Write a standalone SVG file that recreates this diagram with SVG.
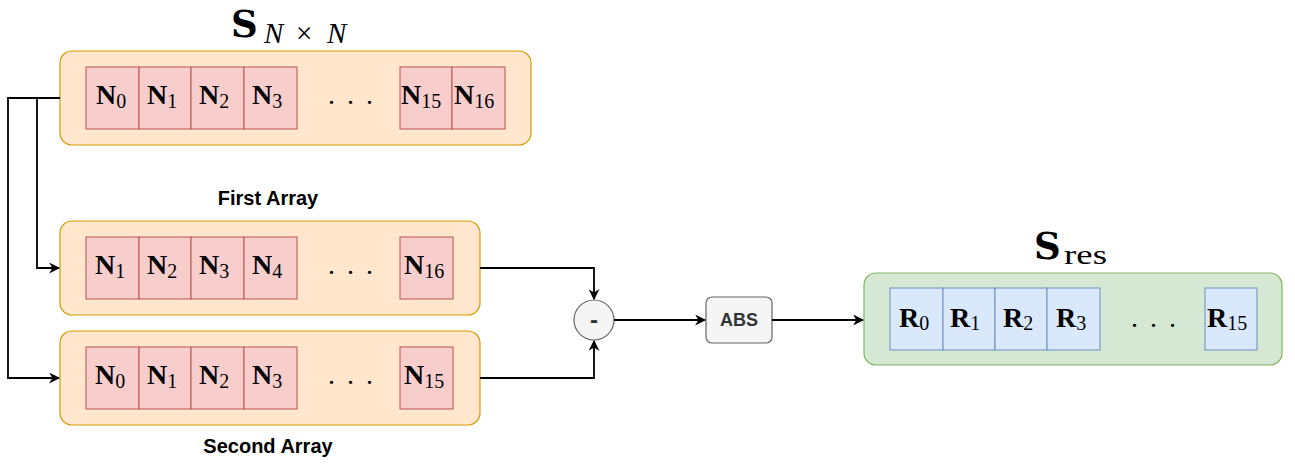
<svg xmlns="http://www.w3.org/2000/svg" width="1295" height="466" viewBox="0 0 1295 466">
  <defs>
    <marker id="arrow" viewBox="0 0 10 10" refX="9" refY="5" markerWidth="11" markerHeight="11" markerUnits="userSpaceOnUse" orient="auto">
      <path d="M0,0 L10,5 L0,10 L3,5 Z" fill="#000"/>
    </marker>
    <style>
      .box { fill: #ffe6cc; stroke: #d79b00; stroke-width: 1.2; }
      .boxg { fill: #d5e8d4; stroke: #82b366; stroke-width: 1.2; }
      .cell { fill: #f8cecc; stroke: #b85450; stroke-width: 1; }
      .cellb { fill: #dae8fc; stroke: #6c8ebf; stroke-width: 1; }
      .m { font-family: "Liberation Serif", "DejaVu Serif", serif; fill: #000; }
      .bigS { font-family: "DejaVu Serif", "Liberation Serif", serif; font-size: 37px; font-weight: bold; fill: #000; }
      .big { font-size: 28px; font-weight: bold; }
      .sub { font-size: 20px; font-weight: normal; }
      .dots { font-family: "Liberation Serif", serif; font-size: 28px; fill: #000; }
      .lbl { font-family: "Liberation Sans", Arial, sans-serif; font-size: 20px; font-weight: bold; fill: #000; }
      .wire { fill: none; stroke: #000; stroke-width: 1.8; }
    </style>
  </defs>
  <rect width="1295" height="466" fill="#fff"/>

  <!-- matrix S (N x N) -->
  <g id="matrix">
    <text class="bigS" x="231" y="37">S</text>
    <text class="m" y="43" font-size="29"><tspan x="264" font-style="italic">N</tspan><tspan x="296">×</tspan><tspan x="327" font-style="italic">N</tspan></text>
    <rect class="box" x="60" y="51" width="471" height="94" rx="12"/>
    <rect class="cell" x="86" y="67" width="53" height="62"/>
    <rect class="cell" x="139" y="67" width="52" height="62"/>
    <rect class="cell" x="191" y="67" width="53" height="62"/>
    <rect class="cell" x="244" y="67" width="53" height="62"/>
    <rect class="cell" x="400" y="67" width="52" height="62"/>
    <rect class="cell" x="452" y="67" width="53" height="62"/>
    <text class="m big" x="96" y="104">N<tspan class="sub" dy="4">0</tspan></text>
    <text class="m big" x="147" y="104">N<tspan class="sub" dy="4">1</tspan></text>
    <text class="m big" x="199" y="104">N<tspan class="sub" dy="4">2</tspan></text>
    <text class="m big" x="252" y="104">N<tspan class="sub" dy="4">3</tspan></text>
    <text class="dots" x="328 347 366" y="104">...</text>
    <text class="m big" x="401" y="104">N<tspan class="sub" dy="4">15</tspan></text>
    <text class="m big" x="454" y="104">N<tspan class="sub" dy="4">16</tspan></text>
  </g>

  <!-- first (shifted) array -->
  <g id="first-array">
    <text class="lbl" x="268" y="205" text-anchor="middle">First Array</text>
    <rect class="box" x="60" y="221" width="420" height="94" rx="12"/>
    <rect class="cell" x="86" y="237" width="53" height="62"/>
    <rect class="cell" x="139" y="237" width="52" height="62"/>
    <rect class="cell" x="191" y="237" width="53" height="62"/>
    <rect class="cell" x="244" y="237" width="53" height="62"/>
    <rect class="cell" x="400" y="237" width="53" height="62"/>
    <text class="m big" x="95" y="274">N<tspan class="sub" dy="4">1</tspan></text>
    <text class="m big" x="147" y="274">N<tspan class="sub" dy="4">2</tspan></text>
    <text class="m big" x="199" y="274">N<tspan class="sub" dy="4">3</tspan></text>
    <text class="m big" x="252" y="274">N<tspan class="sub" dy="4">4</tspan></text>
    <text class="dots" x="328 347 366" y="274">...</text>
    <text class="m big" x="404" y="274">N<tspan class="sub" dy="4">16</tspan></text>
  </g>

  <!-- second array -->
  <g id="second-array">
    <rect class="box" x="60" y="331" width="420" height="94" rx="12"/>
    <rect class="cell" x="86" y="347" width="53" height="62"/>
    <rect class="cell" x="139" y="347" width="52" height="62"/>
    <rect class="cell" x="191" y="347" width="53" height="62"/>
    <rect class="cell" x="244" y="347" width="53" height="62"/>
    <rect class="cell" x="400" y="347" width="53" height="62"/>
    <text class="m big" x="95" y="384">N<tspan class="sub" dy="4">0</tspan></text>
    <text class="m big" x="147" y="384">N<tspan class="sub" dy="4">1</tspan></text>
    <text class="m big" x="199" y="384">N<tspan class="sub" dy="4">2</tspan></text>
    <text class="m big" x="252" y="384">N<tspan class="sub" dy="4">3</tspan></text>
    <text class="dots" x="328 347 366" y="384">...</text>
    <text class="m big" x="404" y="384">N<tspan class="sub" dy="4">15</tspan></text>
    <text class="lbl" x="268" y="453" text-anchor="middle">Second Array</text>
  </g>

  <!-- subtraction -->
  <g id="minus">
    <circle cx="594" cy="320" r="20" fill="#f5f5f5" stroke="#666" stroke-width="1.2"/>
    <text x="594" y="328" text-anchor="middle" font-family="'Liberation Sans', Arial, sans-serif" font-size="24" font-weight="bold" fill="#333">-</text>
  </g>

  <!-- absolute value -->
  <g id="abs">
    <rect x="706" y="297" width="66" height="46" rx="6" fill="#f5f5f5" stroke="#666" stroke-width="1.2"/>
    <text x="739" y="326" text-anchor="middle" font-family="'Liberation Sans', Arial, sans-serif" font-size="18" font-weight="bold" fill="#333">ABS</text>
  </g>

  <!-- result S_res -->
  <g id="result">
    <text class="bigS" x="1034" y="259">S</text>
    <text class="m" x="1064" y="264" font-size="28" textLength="43" lengthAdjust="spacingAndGlyphs">res</text>
    <rect class="boxg" x="864" y="273" width="418" height="92" rx="12"/>
    <rect class="cellb" x="890" y="288" width="53" height="62"/>
    <rect class="cellb" x="943" y="288" width="52" height="62"/>
    <rect class="cellb" x="995" y="288" width="52" height="62"/>
    <rect class="cellb" x="1047" y="288" width="53" height="62"/>
    <rect class="cellb" x="1205" y="288" width="52" height="62"/>
    <text class="m big" x="899" y="327">R<tspan class="sub" dy="3">0</tspan></text>
    <text class="m big" x="950" y="327">R<tspan class="sub" dy="3">1</tspan></text>
    <text class="m big" x="1003" y="327">R<tspan class="sub" dy="3">2</tspan></text>
    <text class="m big" x="1056" y="327">R<tspan class="sub" dy="3">3</tspan></text>
    <text class="dots" x="1131 1150 1169" y="327">...</text>
    <text class="m big" x="1207" y="327">R<tspan class="sub" dy="3">15</tspan></text>
  </g>

  <!-- connectors -->
  <g id="connectors">
    <path class="wire" d="M60,98 H8 V378 H59" marker-end="url(#arrow)"/>
    <path class="wire" d="M37,98 V268 H59" marker-end="url(#arrow)"/>
    <path class="wire" d="M480,268 H594 V299" marker-end="url(#arrow)"/>
    <path class="wire" d="M480,378 H594 V341" marker-end="url(#arrow)"/>
    <path class="wire" d="M614,320 H705" marker-end="url(#arrow)"/>
    <path class="wire" d="M772,320 H863" marker-end="url(#arrow)"/>
  </g>
</svg>
